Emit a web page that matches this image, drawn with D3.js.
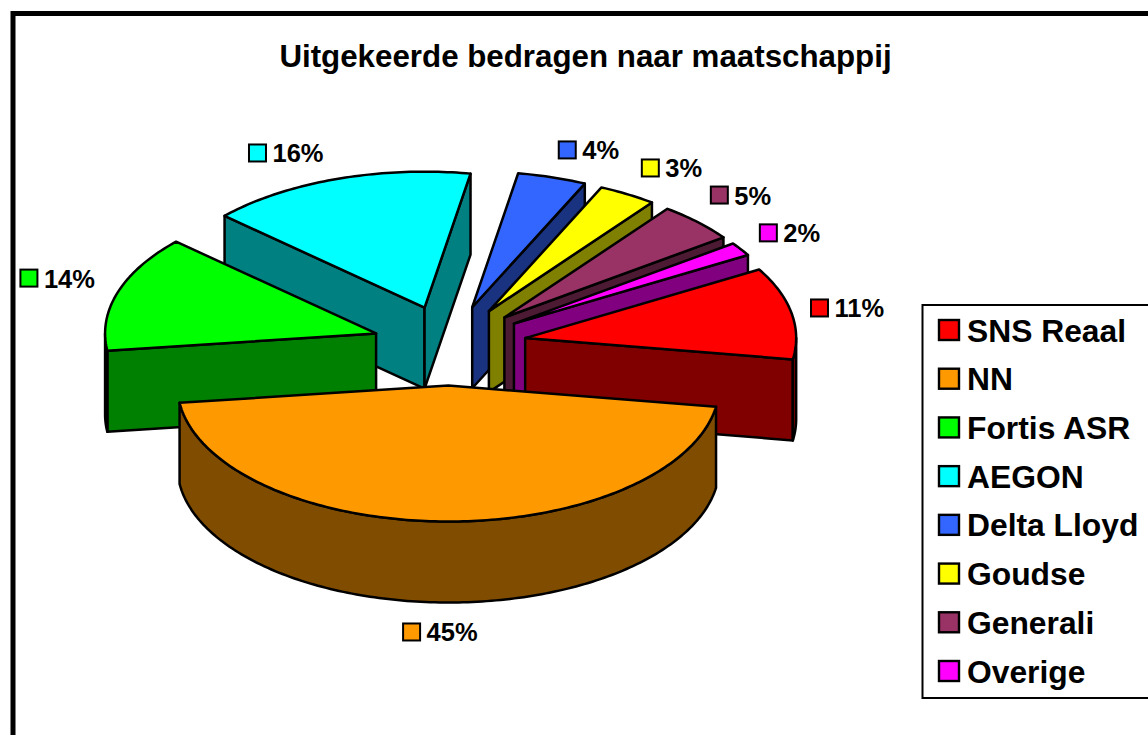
<!DOCTYPE html>
<html><head><meta charset="utf-8">
<script src="https://cdnjs.cloudflare.com/ajax/libs/d3/7.8.5/d3.min.js"></script>
<style>html,body{margin:0;padding:0;background:#fff;overflow:hidden}svg{display:block}
text{font-family:"Liberation Sans",Arial,sans-serif;font-weight:bold;fill:#000}</style>
</head><body><svg id="c" width="1148" height="735"></svg>
<script>
const title = "Uitgekeerde bedragen naar maatschappij";
const categories = ["SNS Reaal","NN","Fortis ASR","AEGON","Delta Lloyd","Goudse","Generali","Overige"];
// shares; the labels show them rounded
const values = [10.9,45.4,13.8,15.9,4.1,3.45,4.7,1.6];
const topColors = ["#ff0000","#ff9900","#00ff00","#00ffff","#3366ff","#ffff00","#993366","#ff00ff"];
const sideColors = ["#800000","#804d00","#008000","#008080","#1a3380","#808000","#4d1a33","#800080"];
// layout: swatch offset of each data label from the slice's outer rim point
const labelOffsets = [[19.5,-5],[-41.3,110.5],[-97.3,-14.3],[-87.8,-26],[6.6,-27.4],[14.3,-26.3],[13.3,-27],[19.1,-16.3]];

const W=1148,H=735, cx=449.5, cy=345.5, rx=271, ry=136, explodeX=77, explodeY=40, depth=81;
const rad=Math.PI/180, start=59.7*rad;
const svg=d3.select("#c");
const total=d3.sum(values), pct=d3.format(".0%");

svg.append("rect").attr("x",13).attr("y",13.5).attr("width",W+40).attr("height",H+40)
  .attr("fill","#fff").attr("stroke","#000").attr("stroke-width",5);
svg.append("text").attr("x",585.5).attr("y",67).attr("text-anchor","middle")
  .attr("font-size",31.3).text(title);

const arcs=d3.pie().sort(null).startAngle(start).endAngle(start+2*Math.PI)(values)
  .map((a,i)=>{const mid=(a.startAngle+a.endAngle)/2;
    return {...a,i,mid,ox:cx+explodeX*Math.sin(mid),oy:cy-explodeY*Math.cos(mid)};});
const line=d3.line();
const pt=(s,t,dz=0)=>[s.ox+rx*Math.sin(t),s.oy-ry*Math.cos(t)+dz];
const rimPts=(s,a,b,dz=0)=>{const n=Math.max(2,Math.ceil((b-a)/rad));
  return d3.range(n+1).map(j=>pt(s,a+(b-a)*j/n,dz));};
const face=(g,p,fill)=>g.append("path").attr("d",line(p)+"Z").attr("fill",fill)
  .attr("stroke","#000").attr("stroke-width",2.5).attr("stroke-linejoin","round");

const order=[...arcs].sort((a,b)=>Math.cos(b.mid)-Math.cos(a.mid));
order.forEach(s=>{
  const g=svg.append("g"), side=sideColors[s.i], apex=[s.ox,s.oy], apexB=[s.ox,s.oy+depth];
  const wall=t=>face(g,[apex,pt(s,t),pt(s,t,depth),apexB],side);
  if(Math.sin(s.startAngle)<0) wall(s.startAngle);
  if(Math.sin(s.endAngle)>0) wall(s.endAngle);
  const a=Math.max(s.startAngle,Math.PI/2), b=Math.min(s.endAngle,1.5*Math.PI);
  if(b>a) face(g,[...rimPts(s,a,b),...rimPts(s,a,b,depth).reverse()],side);
  face(g,[apex,...rimPts(s,s.startAngle,s.endAngle)],topColors[s.i]);
});

arcs.forEach(s=>{
  const rimX=cx+(rx+explodeX)*Math.sin(s.mid), rimY=cy-(ry+explodeY)*Math.cos(s.mid);
  const [dx,dy]=labelOffsets[s.i], x=rimX+dx, y=rimY+dy;
  svg.append("rect").attr("x",x).attr("y",y-8.5).attr("width",17).attr("height",17)
    .attr("fill",topColors[s.i]).attr("stroke","#000").attr("stroke-width",2);
  svg.append("text").attr("x",x+23.5).attr("y",y+9.5).attr("font-size",25.5).text(pct(values[s.i]/total));
});

const lg=svg.append("g");
lg.append("rect").attr("x",922.5).attr("y",305).attr("width",W).attr("height",393)
  .attr("fill","#fff").attr("stroke","#000").attr("stroke-width",2);
const ly=d3.scalePoint().domain(categories).range([330,671]);
categories.forEach((c,i)=>{
  lg.append("rect").attr("x",939).attr("y",ly(c)-10).attr("width",20).attr("height",20)
    .attr("fill",topColors[i]).attr("stroke","#000").attr("stroke-width",2.4);
  lg.append("text").attr("x",967).attr("y",ly(c)+11.5).attr("font-size",31.8).text(c);
});
</script></body></html>
